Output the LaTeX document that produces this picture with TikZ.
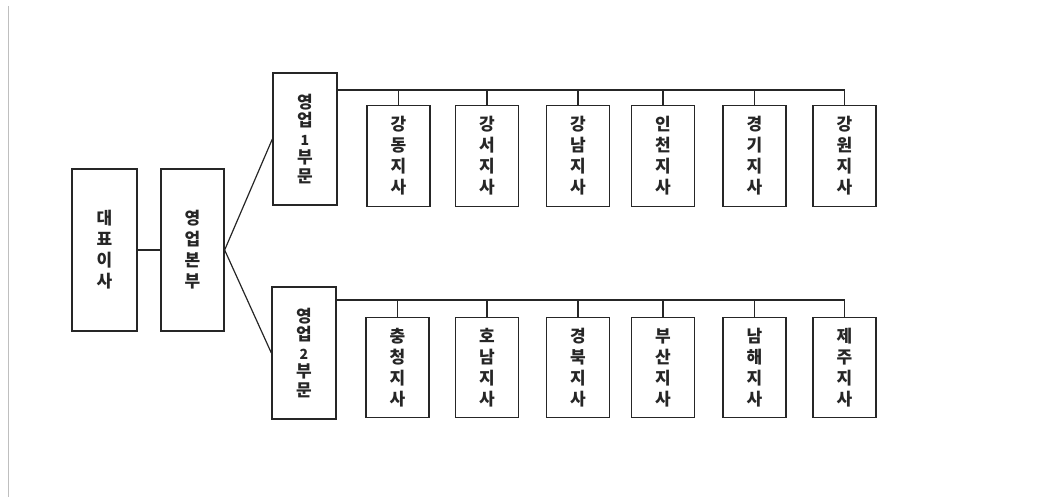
\documentclass[tikz,border=0pt]{standalone}
\usepackage{fontspec}
\newfontfamily\kr{Noto Sans CJK KR}
\begin{document}
\begin{tikzpicture}[x=1pt,y=-1pt,
  box/.style={draw=black!85,line width=1.3pt,inner sep=0pt,align=center,
    font=\kr\bfseries\fontsize{17}{21}\selectfont,text=black!85},
  div/.style={box,minimum width=64,minimum height=132,font=\kr\bfseries\fontsize{17}{18.5}\selectfont},
  conn/.style={draw=black!85,line width=1.2pt}]
\useasboundingbox (0,0) rectangle (1044,502);
\draw[black!25,line width=1pt] (8,6) -- (8,497);
% main boxes
\node[box,minimum width=65,minimum height=162] (ceo) at (104.5,250) {대\\표\\이\\사};
\node[box,minimum width=63,minimum height=162] (hq) at (192.5,250) {영\\업\\본\\부};
\node[div] (d1) at (305,139) {영\\업\\{\fontsize{14}{18.5}\selectfont 1}\\부\\문};
\node[div] (d2) at (304,353) {영\\업\\{\fontsize{14}{18.5}\selectfont 2}\\부\\문};
\draw[conn] (ceo.east) -- (hq.east -| hq.west);
\draw[conn] (hq.east) -- (d1.west);
\draw[conn] (hq.east) -- (d2.west);
% upper branches
\coordinate (t1) at (337,90);
\foreach \n/\x/\t in {a1/398.5/강\\동, a2/487/강\\서, a3/578/강\\남, a4/663/인\\천, a5/754.5/경\\기, a6/844.5/강\\원}{
  \node[box,minimum width=63,minimum height=101] (\n) at (\x,156) {\t\\지\\사};
  \draw[conn] (\n.north) -- (\x,90);
}
\draw[conn] (d1.north east |- t1) -- (a6.north |- t1);
% lower branches
\coordinate (t2) at (335,300);
\foreach \n/\x/\t in {b1/397.5/충\\청, b2/487/호\\남, b3/578/경\\북, b4/663/부\\산, b5/754.5/남\\해, b6/844.5/제\\주}{
  \node[box,minimum width=63,minimum height=100] (\n) at (\x,367.5) {\t\\지\\사};
  \draw[conn] (\n.north) -- (\x,300);
}
\draw[conn] (d2.north east |- t2) -- (b6.north |- t2);
\end{tikzpicture}
\end{document}
